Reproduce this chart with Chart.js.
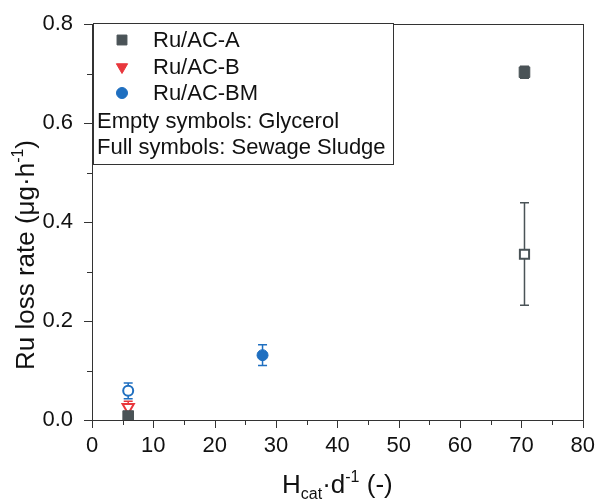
<!DOCTYPE html>
<html>
<head>
<meta charset="utf-8">
<script src="https://cdn.jsdelivr.net/npm/chart.js@4.4.0/dist/chart.umd.min.js"></script>
<style>
  html, body { margin: 0; padding: 0; background: #fff; }
  #wrap { width: 600px; height: 499px; position: relative; }
</style>
</head>
<body>
<div id="wrap"><canvas id="chart" width="600" height="499"></canvas></div>
<script>
// data
var xTicks = [0, 10, 20, 30, 40, 50, 60, 70, 80];
var yTicks = [0.0, 0.2, 0.4, 0.6, 0.8];

// Ru/AC-A, sewage sludge (full)
var aSludgeX = [5.9, 70.5];
var aSludgeY = [0.008, 0.703];
var aSludgeErrLo = [0.006, 0.012];
var aSludgeErrHi = [0.006, 0.012];

// Ru/AC-A, glycerol (empty)
var aGlyX = [70.5];
var aGlyY = [0.335];
var aGlyErrLo = [0.103];
var aGlyErrHi = [0.104];

// Ru/AC-B, glycerol (empty)
var bGlyX = [5.9];
var bGlyY = [0.026];
var bGlyErrLo = [0.012];
var bGlyErrHi = [0.012];

// Ru/AC-BM, glycerol (empty)
var bmGlyX = [5.9];
var bmGlyY = [0.059];
var bmGlyErrLo = [0.016];
var bmGlyErrHi = [0.016];

// Ru/AC-BM, sewage sludge (full)
var bmSludgeX = [27.8];
var bmSludgeY = [0.131];
var bmSludgeErrLo = [0.021];
var bmSludgeErrHi = [0.021];

var legendNames = ['Ru/AC-A', 'Ru/AC-B', 'Ru/AC-BM'];
var legendNotes = ['Empty symbols: Glycerol', 'Full symbols: Sewage Sludge'];

var grey = '#4a5357';
var red = '#e8373c';
var blue = '#1f6fc0';
var FONT = '"Liberation Sans", Arial, sans-serif';

function pts(xs, ys) {
  var out = [];
  for (var i = 0; i < xs.length; i++) out.push({ x: xs[i], y: ys[i] });
  return out;
}

function makeSet(label, xs, ys, lo, hi, color, style, radius, rot, hollow) {
  return {
    label: label,
    data: pts(xs, ys),
    errLo: lo,
    errHi: hi,
    pointStyle: style,
    pointRadius: radius,
    pointHoverRadius: radius,
    pointRotation: rot,
    pointBorderWidth: hollow ? 2 : 1,
    borderColor: color,
    backgroundColor: hollow ? '#ffffff' : color,
    showLine: false
  };
}

var datasets = [
  makeSet('Ru/AC-A', aSludgeX, aSludgeY, aSludgeErrLo, aSludgeErrHi, grey, 'rect', 7.5, 0, false),
  makeSet('Ru/AC-A glycerol', aGlyX, aGlyY, aGlyErrLo, aGlyErrHi, grey, 'rect', 6.5, 0, true),
  makeSet('Ru/AC-B glycerol', bGlyX, bGlyY, bGlyErrLo, bGlyErrHi, red, 'triangle', 6.5, 180, true),
  makeSet('Ru/AC-BM glycerol', bmGlyX, bmGlyY, bmGlyErrLo, bmGlyErrHi, blue, 'circle', 5, 0, true),
  makeSet('Ru/AC-BM', bmSludgeX, bmSludgeY, bmSludgeErrLo, bmSludgeErrHi, blue, 'circle', 5.5, 0, false)
];

// error bars, drawn under the markers
var errorBars = {
  id: 'errorBars',
  beforeDatasetsDraw: function (chart) {
    var ctx = chart.ctx;
    var xs = chart.scales.x, ys = chart.scales.y;
    ctx.save();
    chart.data.datasets.forEach(function (ds) {
      ctx.strokeStyle = ds.borderColor;
      ctx.lineWidth = 1.5;
      ds.data.forEach(function (p, i) {
        var px = xs.getPixelForValue(p.x);
        var top = ys.getPixelForValue(p.y + ds.errHi[i]);
        var bot = ys.getPixelForValue(p.y - ds.errLo[i]);
        ctx.beginPath();
        ctx.moveTo(px, top); ctx.lineTo(px, bot);
        ctx.moveTo(px - 4.5, top); ctx.lineTo(px + 4.5, top);
        ctx.moveTo(px - 4.5, bot); ctx.lineTo(px + 4.5, bot);
        ctx.stroke();
      });
    });
    ctx.restore();
  }
};

// frame, ticks, legend box and axis titles
var decorations = {
  id: 'decorations',
  afterDraw: function (chart) {
    var ctx = chart.ctx;
    var a = chart.chartArea;
    var xs = chart.scales.x, ys = chart.scales.y;
    ctx.save();
    ctx.strokeStyle = '#333';
    ctx.lineWidth = 1;
    // frame
    ctx.strokeRect(Math.round(a.left) + 0.5, Math.round(a.top) + 0.5,
      Math.round(a.right - a.left), Math.round(a.bottom - a.top));
    // ticks
    ctx.beginPath();
    for (var v = 0; v <= 80; v += 5) {
      var px = Math.round(xs.getPixelForValue(v)) + 0.5;
      var len = (v % 10 === 0) ? 8 : 5;
      ctx.moveTo(px, a.bottom); ctx.lineTo(px, a.bottom + len);
    }
    for (var k = 0; k <= 8; k++) {
      var py = Math.round(ys.getPixelForValue(k / 10)) + 0.5;
      var l2 = (k % 2 === 0) ? 8 : 5;
      ctx.moveTo(a.left, py); ctx.lineTo(a.left - l2, py);
    }
    ctx.stroke();

    // legend
    var bx = 93.5, by = 23.5, bw = 300, bh = 141;
    ctx.fillStyle = '#fff';
    ctx.fillRect(bx, by, bw, bh);
    ctx.strokeStyle = '#333';
    ctx.strokeRect(bx, by, bw, bh);
    var markers = [
      { c: grey, s: 'rect', r: 7, rot: 0 },
      { c: red, s: 'triangle', r: 6.5, rot: 180 },
      { c: blue, s: 'circle', r: 5.5, rot: 0 }
    ];
    var rows = [40, 67, 93];
    ctx.font = '22px ' + FONT;
    ctx.textBaseline = 'middle';
    ctx.textAlign = 'left';
    for (var j = 0; j < legendNames.length; j++) {
      ctx.fillStyle = markers[j].c;
      ctx.strokeStyle = markers[j].c;
      ctx.lineWidth = 1;
      Chart.helpers.drawPoint(ctx, { pointStyle: markers[j].s, radius: markers[j].r, rotation: markers[j].rot, borderWidth: 1 }, 122, rows[j]);
      ctx.fillStyle = '#111';
      ctx.fillText(legendNames[j], 153, rows[j] + 1);
    }
    ctx.fillText(legendNotes[0], 97, 122);
    ctx.fillText(legendNotes[1], 97, 148);

    // y title
    ctx.save();
    ctx.translate(34, 255);
    ctx.rotate(-Math.PI / 2);
    drawRich(ctx, [
      { t: 'Ru loss rate (\u03bcg\u00b7h', s: 0 },
      { t: '-1', s: 1 },
      { t: ')', s: 0 }
    ], 0, 0, 26);
    ctx.restore();

    // x title
    drawRich(ctx, [
      { t: 'H', s: 0 },
      { t: 'cat', s: -1 },
      { t: '\u00b7d', s: 0 },
      { t: '-1', s: 1 },
      { t: ' (-)', s: 0 }
    ], (a.left + a.right) / 2, 493, 26);
    ctx.restore();
  }
};

// text with super/subscript parts, centred on cx, baseline at by
function drawRich(ctx, parts, cx, by, size) {
  var small = Math.round(size * 0.62);
  var total = 0;
  parts.forEach(function (p) {
    ctx.font = (p.s ? small : size) + 'px ' + FONT;
    p.w = ctx.measureText(p.t).width;
    total += p.w;
  });
  var x = cx - total / 2;
  ctx.fillStyle = '#111';
  ctx.textAlign = 'left';
  ctx.textBaseline = 'alphabetic';
  parts.forEach(function (p) {
    ctx.font = (p.s ? small : size) + 'px ' + FONT;
    var dy = p.s === 1 ? -size * 0.42 : (p.s === -1 ? size * 0.22 : 0);
    ctx.fillText(p.t, x, by + dy);
    x += p.w;
  });
}

new Chart(document.getElementById('chart'), {
  type: 'scatter',
  data: { datasets: datasets },
  options: {
    responsive: false,
    animation: false,
    layout: { padding: { left: 0, right: 13, top: 23, bottom: 0 } },
    plugins: { legend: { display: false }, tooltip: { enabled: false } },
    scales: {
      x: {
        type: 'linear', min: 0, max: 80,
        afterBuildTicks: function (s) { s.ticks = xTicks.map(function (v) { return { value: v }; }); },
        afterFit: function (s) { s.height = 79; },
        ticks: { color: '#111', font: { size: 22, family: FONT }, padding: 5, maxRotation: 0 },
        grid: { display: false },
        border: { display: false }
      },
      y: {
        type: 'linear', min: 0, max: 0.8,
        afterBuildTicks: function (s) { s.ticks = yTicks.map(function (v) { return { value: v }; }); },
        afterFit: function (s) { s.width = 92; },
        ticks: { color: '#111', font: { size: 22, family: FONT }, padding: 11,
          callback: function (v) { return Number(v).toFixed(1); } },
        grid: { display: false },
        border: { display: false }
      }
    }
  },
  plugins: [errorBars, decorations]
});
</script>
</body>
</html>
